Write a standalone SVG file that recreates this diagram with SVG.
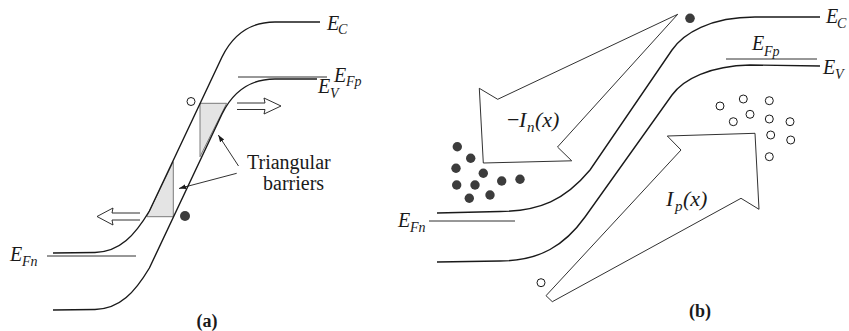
<svg xmlns="http://www.w3.org/2000/svg" width="849" height="331" viewBox="0 0 849 331">
<defs>
<style>
.band{fill:none;stroke:#1a1a1a;stroke-width:1.4}
.lvl{fill:none;stroke:#1a1a1a;stroke-width:0.9}
.thin{fill:none;stroke:#1a1a1a;stroke-width:0.9}
.tri{fill:#e4e4e4;stroke:#7a7a7a;stroke-width:1}
.e{fill:#3c3c3c}
.h{fill:#fff;stroke:#1a1a1a;stroke-width:1}
text{font-family:'Liberation Serif','Times New Roman','DejaVu Serif',serif;fill:#1a1a1a}
.lab{font-style:italic;font-size:20px}
.sub{font-style:italic;font-size:14px}
.txt{font-size:20px}
.cap{font-weight:bold;font-size:18px;text-anchor:middle}
</style>
<marker id="ah" viewBox="0 0 10 10" refX="10" refY="5" markerWidth="7" markerHeight="7" orient="auto" markerUnits="userSpaceOnUse">
<path d="M0,1.5 L10,5 L0,8.5 Z" fill="#1a1a1a"/>
</marker>
</defs>

<g id="panel-a" font-family="Liberation Serif, Times New Roman, serif">
<g id="a-triangles">
<polygon class="tri" points="200,103.3 226.7,103.3 200,156.7"/>
<polygon class="tri" points="173.3,161.7 173.3,216.7 146.7,216.7"/>
</g>
<g id="a-bands">
<path id="a-EC" class="band" d="M53,253 L95,252.5 C120,252 135,235 149.4,211 L222,57 C230,40.7 245,22 275,22 L320,22"/>
<path id="a-EV" class="band" d="M53,310 L95,309.5 C120,309 135,292 149.4,268 L222,114 C230,97.7 245,79 275,79 L317,79"/>
<line id="a-EFn" class="lvl" x1="47" y1="256" x2="136" y2="256"/>
<line id="a-EFp" class="lvl" x1="238" y1="77" x2="327" y2="77"/>
</g>
<g id="a-carriers">
<circle class="h" cx="191" cy="101.5" r="4"/>
<circle class="e" cx="185" cy="216" r="5"/>
</g>
<g id="a-connectors">
<path class="thin" d="M237,103 H265 L264,98 L281,106 L264,114 L265,109.5 H237"/>
<path class="thin" d="M140,213 H112 L113,208 L97,216.5 L113,225 L112,220 H140"/>
<line class="thin" x1="238.5" y1="166" x2="218.3" y2="135" marker-end="url(#ah)"/>
<line class="thin" x1="236.7" y1="173.3" x2="179" y2="188.5" marker-end="url(#ah)"/>
</g>
<g id="a-labels">
<text class="lab" x="327" y="30">E</text><text class="sub" x="338" y="34">C</text>
<text class="lab" x="334" y="82">E</text><text class="sub" x="346" y="86">Fp</text>
<text class="lab" x="318" y="93">E</text><text class="sub" x="330" y="98">V</text>
<text class="lab" x="10" y="261">E</text><text class="sub" x="22" y="266">Fn</text>
<text class="txt" x="247" y="169">Triangular</text>
<text class="txt" x="263" y="190">barriers</text>
<text class="cap" x="207" y="327">(a)</text>
</g>
</g>

<g id="panel-b">
<g id="b-currents">
<polygon class="thin" points="677.7,14.3 497.7,99.3 479.3,88.3 483.3,163 571.7,160.8 557.5,147"/>
<polygon class="thin" points="546,295.7 681,150 667.3,136 755,133.3 759,209.3 741,198.3 552.3,301.7"/>
</g>
<g id="b-bands">
<path id="b-EC" class="band" d="M437,213 L500,211.5 C540,211 565,200 590,170 L672,50 C683.3,33.5 710,17 755,17 L820,17"/>
<path id="b-EV" class="band" d="M437,262 L500,261 C540,261 565,245 585,217 L672,95 C683.6,78.8 710,66 750,65 L820,66"/>
<line id="b-EFn" class="lvl" x1="429" y1="221" x2="515" y2="221"/>
<line id="b-EFp" class="lvl" x1="726" y1="59" x2="817" y2="59"/>
</g>
<g id="b-electrons">
<circle class="e" cx="690" cy="18.3" r="4.8"/>
<circle class="e" cx="457.3" cy="146.7" r="4.7"/>
<circle class="e" cx="470.7" cy="158.3" r="4.7"/>
<circle class="e" cx="456" cy="168.3" r="4.7"/>
<circle class="e" cx="483.3" cy="173.3" r="4.7"/>
<circle class="e" cx="501.7" cy="181" r="4.7"/>
<circle class="e" cx="520" cy="179.3" r="4.7"/>
<circle class="e" cx="456.7" cy="185" r="4.7"/>
<circle class="e" cx="475" cy="185" r="4.7"/>
<circle class="e" cx="469.3" cy="198.3" r="4.7"/>
<circle class="e" cx="490" cy="195" r="4.7"/>
</g>
<g id="b-holes">
<circle class="h" cx="720" cy="106" r="4"/>
<circle class="h" cx="743.3" cy="99" r="4"/>
<circle class="h" cx="769.3" cy="100.7" r="4"/>
<circle class="h" cx="750" cy="114.3" r="4"/>
<circle class="h" cx="733.3" cy="121.7" r="4"/>
<circle class="h" cx="769.3" cy="119" r="4"/>
<circle class="h" cx="790" cy="121.7" r="4"/>
<circle class="h" cx="770.7" cy="135" r="4"/>
<circle class="h" cx="790.7" cy="140" r="4"/>
<circle class="h" cx="769.3" cy="156.7" r="4"/>
<circle class="h" cx="541" cy="282.7" r="4"/>
</g>
<g id="b-labels">
<text class="lab" x="826" y="23">E</text><text class="sub" x="837" y="28">C</text>
<text class="lab" x="823" y="74">E</text><text class="sub" x="835" y="79">V</text>
<text class="lab" x="752" y="50">E</text><text class="sub" x="764" y="56">Fp</text>
<text class="lab" x="398" y="227">E</text><text class="sub" x="410" y="232">Fn</text>
<text class="txt" x="507" y="127" style="font-size:22px">−</text>
<text class="lab" x="519" y="127" style="font-size:22px">I</text><text class="sub" x="527" y="132" style="font-size:15px">n</text>
<text class="lab" x="535" y="127" style="font-size:22px">(x)</text>
<text class="lab" x="666" y="206" style="font-size:22px">I</text><text class="sub" x="675" y="211" style="font-size:15px">p</text>
<text class="lab" x="683" y="206" style="font-size:22px">(x)</text>
<text class="cap" x="700" y="317">(b)</text>
</g>
</g>
</svg>
